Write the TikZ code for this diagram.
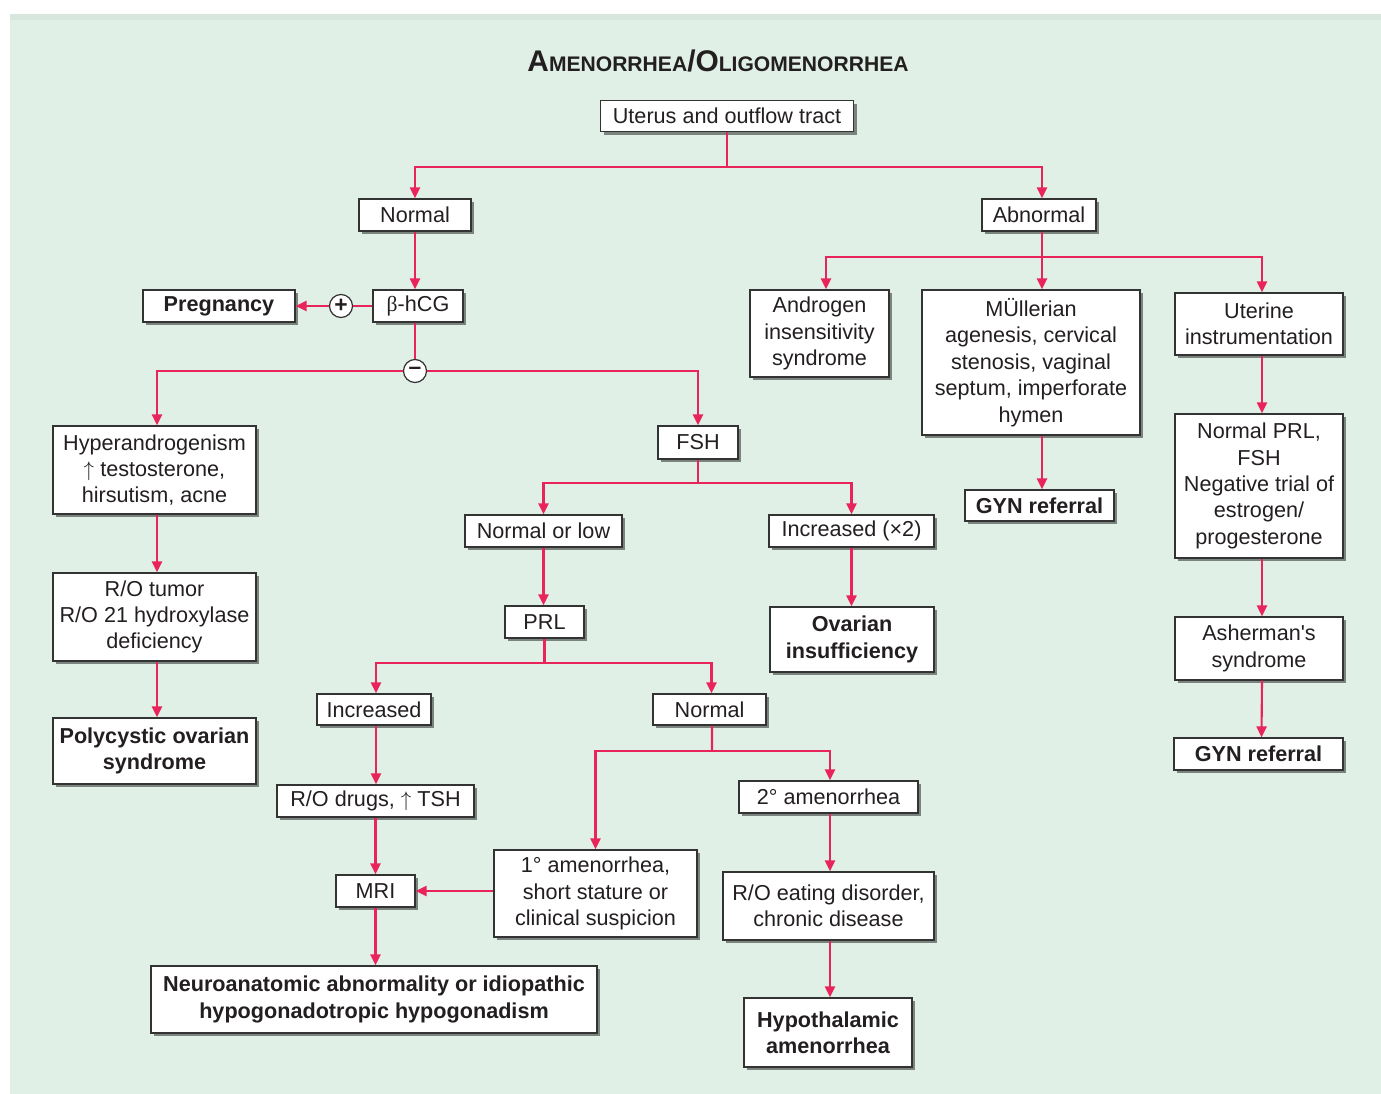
\documentclass[tikz,border=0pt]{standalone}
\usepackage{fontspec}
\setmainfont{Liberation Sans}
\newfontfamily\greekserif{Liberation Serif}
\usepackage{xcolor}
\usetikzlibrary{arrows.meta,positioning,shadows}
\definecolor{flow}{HTML}{E8245A}
\definecolor{panel}{HTML}{E0F0E6}
\definecolor{ink}{HTML}{231F20}
\newcommand{\TitleCap}[1]{{\fontsize{17}{20}\selectfont #1}}

\begin{document}
\begin{tikzpicture}[
  box/.style={rectangle, draw=black!80, fill=white, line width=0.7pt, align=center, text=ink,
    inner xsep=1pt, inner ysep=2pt, font=\fontsize{12.3}{15}\selectfont,
    drop shadow={shadow xshift=0.6mm, shadow yshift=-0.6mm, fill=black, opacity=0.45}},
  endbox/.style={box, font=\fontsize{12.3}{15}\selectfont\bfseries},
  sz/.style 2 args={minimum width=#1cm, minimum height=#2cm},
  sign/.style={circle, draw=black!80, fill=white, line width=0.7pt, inner sep=0pt,
    minimum size=4.6mm, font=\fontsize{13}{13}\selectfont\bfseries, text=ink},
  link/.style={line width=1.2pt, draw=flow},
  arr/.style={link, -{Triangle[length=2.2mm, width=2mm]}},
]
\useasboundingbox (0,0) rectangle (27.62,-21.88);

% Background panel
\fill[panel] (0.2,-0.28) rectangle (27.62,-21.88);
\fill[black!4!panel] (0.2,-0.28) rectangle (27.62,-0.40);

% Title
\node[text=ink, font=\bfseries\fontsize{12}{14}\selectfont] (title) at (14.36,-1.22)
  {\TitleCap{A}MENORRHEA\TitleCap{/O}LIGOMENORRHEA};

% Top levels
\node[box, sz={5.06}{0.62}] (uterus) at (14.54,-2.32) {Uterus and outflow tract};
\node[box, sz={2.24}{0.64}] (normal) at (8.30,-4.30) {Normal};
\node[box, sz={2.28}{0.64}] (abnormal) at (20.78,-4.30) {Abnormal};

% Normal branch
\node[box, sz={1.80}{0.64}] (hcg) at (8.36,-6.12) {{\greekserif β}-hCG};
\node[sign] (plus) at (6.82,-6.12) {+};
\node[endbox, sz={3.04}{0.64}] (preg) at (4.38,-6.12) {Pregnancy};
\node[sign] (minus) at (8.30,-7.42) {--};

\node[box, sz={4.06}{1.76}] (hyper) at (3.09,-9.40) {Hyperandrogenism\\$\uparrow$ testosterone,\\hirsutism, acne};
\node[box, sz={4.06}{1.76}] (rotumor) at (3.09,-12.34) {R/O tumor\\R/O 21 hydroxylase\\deficiency};
\node[endbox, sz={4.06}{1.32}] (pcos) at (3.09,-15.02) {Polycystic ovarian\\syndrome};

\node[box, sz={1.60}{0.66}] (fsh) at (13.96,-8.85) {FSH};
\node[box, sz={3.14}{0.64}] (normlow) at (10.87,-10.62) {Normal or low};
\node[box, sz={3.30}{0.64}] (incr2) at (17.03,-10.62) {Increased (×2)};
\node[box, sz={1.58}{0.64}] (prl) at (10.89,-12.44) {PRL};
\node[endbox, sz={3.28}{1.30}] (ovins) at (17.04,-12.79) {Ovarian\\insufficiency};

\node[box, sz={2.28}{0.62}] (incr) at (7.48,-14.19) {Increased};
\node[box, sz={2.26}{0.62}] (normal2) at (14.19,-14.19) {Normal};
\node[box, sz={3.94}{0.64}] (rodrugs) at (7.51,-16.02) {R/O drugs, $\uparrow$ TSH};
\node[box, sz={1.58}{0.64}] (mri) at (7.51,-17.82) {MRI};
\node[endbox, sz={8.92}{1.34}] (neuro) at (7.48,-19.99) {Neuroanatomic abnormality or idiopathic\\hypogonadotropic hypogonadism};

\node[box, sz={4.06}{1.74}] (prim) at (11.91,-17.87) {1° amenorrhea,\\short stature or\\clinical suspicion};
\node[box, sz={3.58}{0.64}] (sec) at (16.57,-15.94) {2° amenorrhea};
\node[box, sz={4.22}{1.36}] (roeat) at (16.57,-18.12) {R/O eating disorder,\\chronic disease};
\node[endbox, sz={3.36}{1.38}] (hypoth) at (16.56,-20.65) {Hypothalamic\\amenorrhea};

% Abnormal branch
\node[box, sz={2.78}{1.74}] (ais) at (16.39,-6.67) {Androgen\\insensitivity\\syndrome};
\node[box, sz={4.36}{2.90}] (mull) at (20.62,-7.25) {MÜllerian\\agenesis, cervical\\stenosis, vaginal\\septum, imperforate\\hymen};
\node[endbox, sz={2.98}{0.62}] (gyn1) at (20.79,-10.11) {GYN referral};
\node[box, sz={3.36}{1.24}] (uterine) at (25.18,-6.48) {Uterine\\instrumentation};
\node[box, sz={3.36}{2.88}] (normprl) at (25.18,-9.72) {Normal PRL,\\FSH\\Negative trial of\\estrogen/\\progesterone};
\node[box, sz={3.36}{1.26}] (asher) at (25.18,-12.97) {Asherman\textquotesingle s\\syndrome};
\node[endbox, sz={3.38}{0.64}] (gyn2) at (25.17,-15.08) {GYN referral};

% Junctions
\coordinate (jut) at (14.54,-3.34);
\coordinate (jab) at (20.84,-5.14);
\coordinate (jfsh) at (13.96,-9.66);
\coordinate (jprl) at (10.89,-13.26);
\coordinate (jnorm) at (14.24,-15.02);

% Connectors
\draw[link] (uterus) -- (jut);
\draw[arr] (jut) -| (normal.north);
\draw[arr] (jut) -| ([xshift=0.06cm]abnormal.north);

\draw[arr] (normal) -- (normal |- hcg.north);
\draw[link] (hcg) -- (plus);
\draw[arr] (plus) -- (preg);
\draw[link] (minus |- hcg.south) -- (minus);
\draw[arr] (minus) -| ([xshift=0.05cm]hyper.north);
\draw[arr] (minus) -| (fsh.north);
\draw[arr] ([xshift=0.05cm]hyper.south) -- ([xshift=0.05cm]rotumor.north);
\draw[arr] ([xshift=0.05cm]rotumor.south) -- ([xshift=0.05cm]pcos.north);

\draw[link] (fsh) -- (jfsh);
\draw[arr] (jfsh) -| (normlow.north);
\draw[arr] (jfsh) -| (incr2.north);
\draw[arr] (normlow) -- (normlow |- prl.north);
\draw[arr] (incr2) -- (incr2 |- ovins.north);

\draw[link] (prl) -- (jprl);
\draw[arr] (jprl) -| ([xshift=0.04cm]incr.north);
\draw[arr] (jprl) -| ([xshift=0.04cm]normal2.north);
\draw[arr] ([xshift=0.04cm]incr.south) -- ([xshift=0.04cm]incr.south |- rodrugs.north);
\draw[arr] (rodrugs) -- (mri);
\draw[arr] (mri) -- (mri |- neuro.north);

\draw[link] ([xshift=0.05cm]normal2.south) -- (jnorm);
\draw[arr] (jnorm) -| (prim.north);
\draw[arr] (jnorm) -| ([xshift=0.03cm]sec.north);
\draw[arr] (prim.west |- mri) -- (mri.east);
\draw[arr] ([xshift=0.03cm]sec.south) -- ([xshift=0.03cm]sec.south |- roeat.north);
\draw[arr] ([xshift=0.03cm]roeat.south) -- ([xshift=0.03cm]roeat.south |- hypoth.north);

\draw[link] ([xshift=0.06cm]abnormal.south) -- (jab);
\draw[arr] (jab) -| ([xshift=0.13cm]ais.north);
\draw[arr] (jab) -- (jab |- mull.north);
\draw[arr] (jab) -| ([xshift=0.06cm]uterine.north);
\draw[arr] (jab |- mull.south) -- (jab |- gyn1.north);
\draw[arr] ([xshift=0.06cm]uterine.south) -- ([xshift=0.06cm]normprl.north);
\draw[arr] ([xshift=0.06cm]normprl.south) -- ([xshift=0.06cm]asher.north);
\draw[arr] ([xshift=0.06cm]asher.south) -- ([xshift=0.06cm]gyn2.north);

\end{tikzpicture}
\end{document}
